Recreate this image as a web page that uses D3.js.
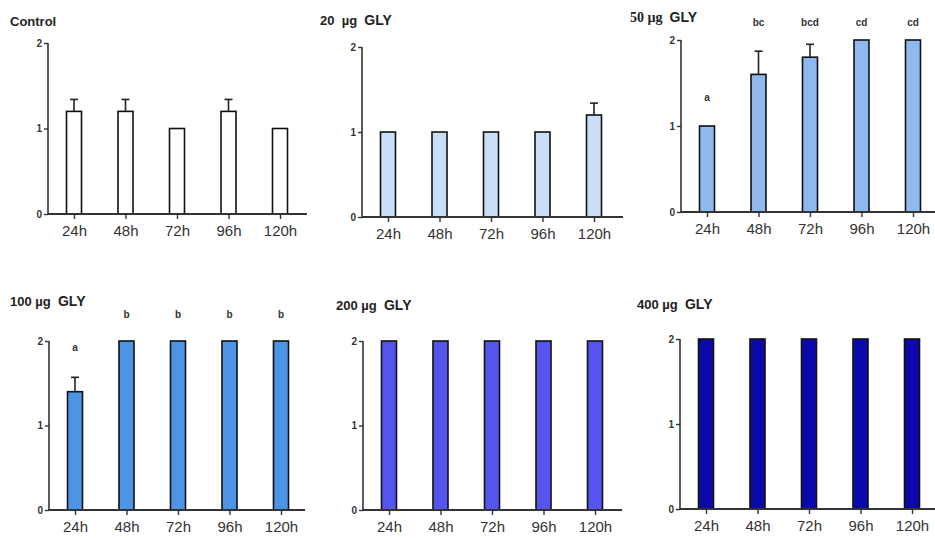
<!DOCTYPE html>
<html>
<head>
<meta charset="utf-8">
<script src="https://cdn.jsdelivr.net/npm/d3@7"></script>
<style>
  body { margin: 0; background: #fff; }
  text { font-family: Arial, "Liberation Sans", sans-serif; }
</style>
</head>
<body>
<div class="chart"></div>
<script>
// categories shared by every panel
var hours = ["24h", "48h", "72h", "96h", "120h"];
var yTicks = [0, 1, 2];

// panel titles
var titles = ["Control", "20  \u00b5g  GLY", "50 \u00b5g  GLY", "100 \u00b5g  GLY", "200 \u00b5g  GLY", "400 \u00b5g  GLY"];

// bar means per panel
var controlVals = [1.2, 1.2, 1.0, 1.2, 1.0];
var gly20Vals = [1.0, 1.0, 1.0, 1.0, 1.2];
var gly50Vals = [1.0, 1.6, 1.8, 2.0, 2.0];
var gly100Vals = [1.4, 2.0, 2.0, 2.0, 2.0];
var gly200Vals = [2.0, 2.0, 2.0, 2.0, 2.0];
var gly400Vals = [2.0, 2.0, 2.0, 2.0, 2.0];

// upper error bars per panel
var controlErr = [0.14, 0.14, 0, 0.14, 0];
var gly20Err = [0, 0, 0, 0, 0.14];
var gly50Err = [0, 0.27, 0.15, 0, 0];
var gly100Err = [0.17, 0, 0, 0, 0];
var gly200Err = [0, 0, 0, 0, 0];
var gly400Err = [0, 0, 0, 0, 0];

// significance letters and the value level where they sit
var gly50Letters = ["a", "bc", "bcd", "cd", "cd"];
var gly50LetterAt = [1.29, 2.16, 2.16, 2.16, 2.16];
var gly100Letters = ["a", "b", "b", "b", "b"];
var gly100LetterAt = [1.88, 2.27, 2.27, 2.27, 2.27];

var fills = ["#ffffff", "#c9def7", "#8fb8ee", "#4d94e6", "#5555ee", "#0a0aaa"];

// layout of each small chart (pixels)
var panels = [
  {vals: controlVals, err: controlErr, ax: 48, y0: 214, y2: 43, xEnd: 307, tx: 10, ty: 26},
  {vals: gly20Vals, err: gly20Err, ax: 362, y0: 217, y2: 47, xEnd: 623, tx: 320, ty: 25},
  {vals: gly50Vals, err: gly50Err, ax: 681, y0: 212, y2: 40, xEnd: 935, tx: 630, ty: 22,
   letters: gly50Letters, letterAt: gly50LetterAt, serif: true},
  {vals: gly100Vals, err: gly100Err, ax: 49, y0: 510, y2: 341, xEnd: 305, tx: 10, ty: 306,
   letters: gly100Letters, letterAt: gly100LetterAt},
  {vals: gly200Vals, err: gly200Err, ax: 363, y0: 510, y2: 341, xEnd: 622, tx: 336, ty: 310},
  {vals: gly400Vals, err: gly400Err, ax: 680, y0: 509, y2: 339, xEnd: 935, tx: 637, ty: 309}
];

var svg = d3.select(".chart").append("svg")
  .attr("width", 935)
  .attr("height", 538);

var axisColor = "#333";

panels.forEach(function(p, i) {
  var g = svg.append("g");

  var y = d3.scaleLinear().domain([0, 2]).range([p.y0, p.y2]);
  var x = d3.scalePoint().domain(hours).range([p.ax + 26, p.ax + 232]);
  var barW = 15;

  // title
  var t = g.append("text")
    .attr("x", p.tx)
    .attr("y", p.ty)
    .attr("font-weight", "bold")
    .attr("font-size", 13)
    .attr("fill", "#222");
  if (i == 0) {
    t.text(titles[i]);
  } else {
    var parts = titles[i].split("GLY");
    t.append("tspan")
      .attr("font-family", p.serif ? "'Liberation Serif', serif" : null)
      .attr("font-size", p.serif ? 14 : 13)
      .text(parts[0].replace(/ /g, "\u00a0"));
    t.append("tspan").attr("font-size", 14).text("GLY");
  }

  // bars
  g.selectAll("rect.bar")
    .data(p.vals)
    .enter()
    .append("rect")
    .attr("class", "bar")
    .attr("x", (d, j) => x(hours[j]) - barW / 2)
    .attr("y", d => y(d))
    .attr("width", barW)
    .attr("height", d => y(0) - y(d))
    .attr("fill", fills[i])
    .attr("stroke", "#111")
    .attr("stroke-width", 1.6);

  // error bars (upper only)
  p.err.forEach(function(e, j) {
    if (!e) return;
    var cx = x(hours[j]);
    g.append("line")
      .attr("x1", cx).attr("x2", cx)
      .attr("y1", y(p.vals[j])).attr("y2", y(p.vals[j] + e))
      .attr("stroke", "#222").attr("stroke-width", 1.6);
    g.append("line")
      .attr("x1", cx - 4).attr("x2", cx + 4)
      .attr("y1", y(p.vals[j] + e)).attr("y2", y(p.vals[j] + e))
      .attr("stroke", "#222").attr("stroke-width", 1.6);
  });

  // letters
  if (p.letters) {
    g.selectAll("text.letter")
      .data(p.letters)
      .enter()
      .append("text")
      .attr("class", "letter")
      .attr("x", (d, j) => x(hours[j]))
      .attr("y", (d, j) => y(p.letterAt[j]))
      .attr("text-anchor", "middle")
      .attr("font-size", 10)
      .attr("font-weight", "bold")
      .attr("fill", "#333")
      .text(d => d);
  }

  // y axis
  var yAxis = d3.axisLeft(y).tickValues(yTicks).tickFormat(d3.format("d")).tickSize(4).tickPadding(2);
  var ya = g.append("g")
    .attr("transform", `translate(${p.ax}, 0)`)
    .call(yAxis);
  ya.select(".domain").attr("stroke", axisColor).attr("stroke-width", 1.6)
    .attr("d", `M0,${p.y0}V${p.y2}`);
  ya.selectAll(".tick line").attr("stroke", axisColor).attr("stroke-width", 1.4);
  ya.selectAll(".tick text")
    .attr("font-size", 10)
    .attr("font-weight", "bold")
    .attr("fill", "#333")
    .attr("font-family", "Arial, 'Liberation Sans', sans-serif");

  // x axis
  var xAxis = d3.axisBottom(x).tickSize(5).tickPadding(6);
  var xa = g.append("g")
    .attr("transform", `translate(0, ${p.y0})`)
    .call(xAxis);
  xa.select(".domain").attr("stroke", axisColor).attr("stroke-width", 1.8)
    .attr("d", `M${p.ax},0H${p.xEnd}`);
  xa.selectAll(".tick line").attr("stroke", axisColor).attr("stroke-width", 1.4);
  xa.selectAll(".tick text")
    .attr("font-size", 15)
    .attr("fill", "#333")
    .attr("font-family", "Arial, 'Liberation Sans', sans-serif");
});
</script>
</body>
</html>
